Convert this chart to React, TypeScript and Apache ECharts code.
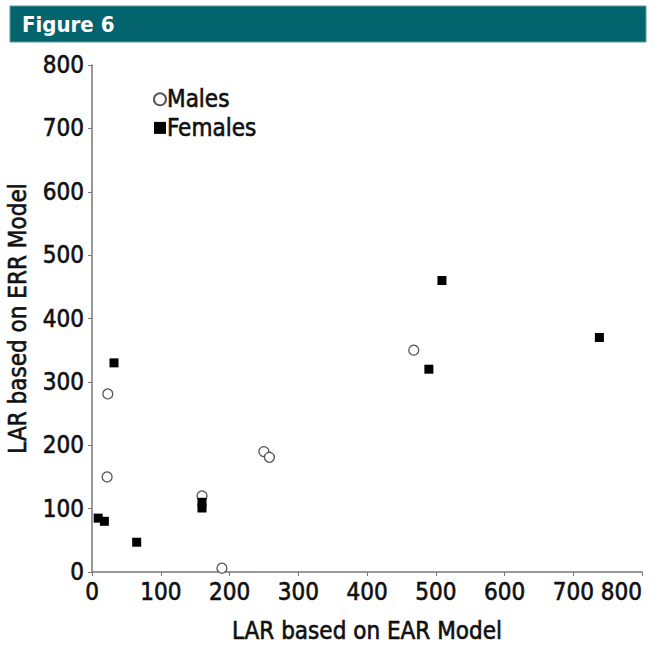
import React, { useEffect, useRef } from "react";
import * as echarts from "echarts";

const malesData: [number, number][] = [
  [23, 281], [22, 150], [160, 120], [189, 6], [250, 190], [258, 181], [468, 350],
];
const femalesData: [number, number][] = [
  [32, 330], [9, 85], [18, 80], [65, 47], [160, 110], [160, 101], [509, 460], [490, 320], [738, 370],
];
const xAxisTitle = "LAR based on EAR Model";
const yAxisTitle = "LAR based on ERR Model";
const figureTitle = "Figure 6";

const FONT = "'Liberation Sans Narrow', 'DejaVu Sans Condensed', 'Roboto', sans-serif";
const INK = "#111111";
const thick = { textBorderColor: INK, textBorderWidth: 0.6 };

export default function App() {
  const ref = useRef<HTMLDivElement>(null);
  useEffect(() => {
    document.body.style.margin = "0";
    const chart = echarts.init(ref.current!, null, { renderer: "svg" });
    chart.setOption({
      animation: false,
      backgroundColor: "#ffffff",
      textStyle: { fontFamily: FONT },
      graphic: [
        {
          type: "rect",
          shape: { x: 10, y: 6, width: 636, height: 36 },
          style: { fill: "#03646e", stroke: "#5a9aa2", lineWidth: 1 },
        },
        {
          type: "text",
          x: 22,
          y: 24,
          style: {
            text: figureTitle,
            fill: "#ffffff",
            font: `bold 22px ${FONT}`,
            verticalAlign: "middle",
          },
        },
      ],
      legend: {
        left: 148,
        top: 82,
        orient: "vertical",
        itemGap: 4,
        itemWidth: 12,
        itemHeight: 12,
        textStyle: { fontSize: 24, color: INK, fontFamily: FONT, padding: [0, 0, 0, -4], ...thick },
        data: [
          { name: "Males", icon: "circle" },
          { name: "Females", icon: "rect", itemStyle: { borderWidth: 0 } },
        ],
      },
      grid: { left: 92, top: 65, right: 11, bottom: 74, outerBoundsMode: "none", containLabel: false },
      xAxis: {
        type: "value",
        min: 0,
        max: 800,
        interval: 100,
        name: xAxisTitle,
        nameLocation: "middle",
        nameGap: 47,
        nameTextStyle: { fontSize: 24, color: INK, fontFamily: FONT, ...thick },
        axisLine: { show: true, lineStyle: { color: "#777", width: 1.5 } },
        axisTick: { show: true, length: 4, lineStyle: { color: "#777" } },
        axisLabel: { fontSize: 24, color: INK, margin: 8, fontFamily: FONT, alignMaxLabel: "right", ...thick },
        splitLine: { show: false },
      },
      yAxis: {
        type: "value",
        min: 0,
        max: 800,
        interval: 100,
        name: yAxisTitle,
        nameLocation: "middle",
        nameGap: 62,
        nameTextStyle: { fontSize: 24, color: INK, fontFamily: FONT, ...thick },
        axisLine: { show: true, lineStyle: { color: "#777", width: 1.5 } },
        axisTick: { show: true, length: 4, lineStyle: { color: "#777" } },
        axisLabel: { fontSize: 24, color: INK, margin: 8, fontFamily: FONT, ...thick },
        splitLine: { show: false },
      },
      series: [
        {
          name: "Males",
          type: "scatter",
          symbol: "circle",
          symbolSize: 10,
          itemStyle: { color: "#ffffff", borderColor: "#555", borderWidth: 1.3, opacity: 1 },
          data: malesData,
        },
        {
          name: "Females",
          type: "scatter",
          symbol: "rect",
          symbolSize: 9,
          itemStyle: { color: "#000000", opacity: 1 },
          data: femalesData,
        },
      ],
    });
    return () => chart.dispose();
  }, []);
  return <div ref={ref} style={{ width: 653, height: 646 }} />;
}
